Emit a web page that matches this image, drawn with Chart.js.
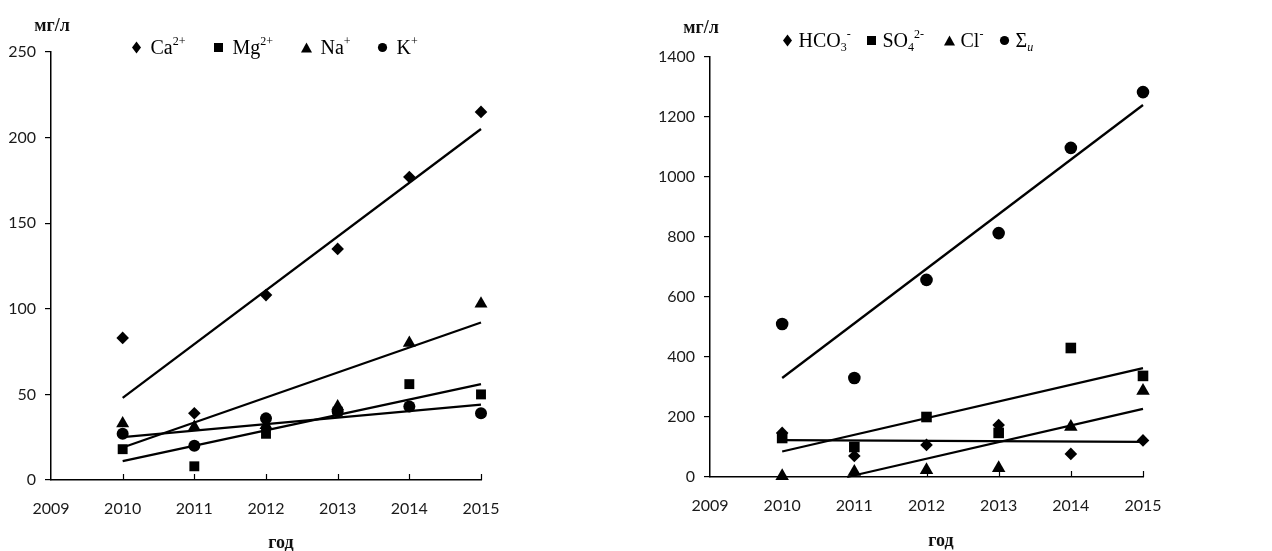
<!DOCTYPE html>
<html><head><meta charset="utf-8">
<script src="https://cdn.jsdelivr.net/npm/chart.js@4/dist/chart.umd.min.js"></script>
<style>
html,body{margin:0;padding:0;background:#fff;width:1272px;height:551px;overflow:hidden}
.wrap{position:absolute;top:0;width:636px;height:551px}
.wrap canvas{position:absolute;left:0;top:0}
.t{position:absolute;font-family:"Liberation Serif","DejaVu Serif",serif;font-weight:bold;color:#111;white-space:nowrap;transform:translate(-50%,-50%)}
.lg{position:absolute;font-family:"Liberation Serif",serif;font-size:20px;color:#000;white-space:nowrap;display:flex;align-items:center;transform:translateY(-50%);line-height:1}
.lg sup{font-size:12px;vertical-align:9px;line-height:0}
.lg sub{font-size:12px;vertical-align:-4px;line-height:0}
</style></head>
<body>
<div class="wrap" style="left:0"><canvas id="c1" width="636" height="551"></canvas></div>
<div class="wrap" style="left:636px"><canvas id="c2" width="636" height="551"></canvas></div>
<script>
// ---------- data ----------
const years = [2010, 2011, 2012, 2013, 2014, 2015];
const xTicks = [2009, 2010, 2011, 2012, 2013, 2014, 2015];

// left panel: cations, mg/l
const ca = [83, 39, 108, 135, 177, 215];
const mg = [18, 8, 27, 40, 56, 50];
const na = [33, 31, 32, 43, 80, 103];
const k  = [27, 20, 36, 40, 43, 39];
// trend lines: [x0, y0, x1, y1]
const caTrend = [2010, 48, 2015, 205];
const mgTrend = [2010, 11, 2015, 56];
const naTrend = [2010, 19, 2015, 92];
const kTrend  = [2010, 25, 2015, 44];
const leftLabels = ['Ca<sup>2+</sup>', 'Mg<sup>2+</sup>', 'Na<sup>+</sup>', 'K<sup>+</sup>'];

// right panel: anions and sum, mg/l
const hco3 = [147, 70, 107, 173, 77, 122];
const so4  = [130, 100, 200, 147, 430, 337];
const cl   = [3, 17, 23, 30, 167, 287];
const sumI = [510, 330, 657, 813, 1097, 1283];
const hco3Trend = [2010, 123, 2015, 117];
const so4Trend  = [2010, 85, 2015, 363];
const clTrend   = [2010.9, 0, 2015, 227];
const sumTrend  = [2010, 330, 2015, 1240];
const rightLabels = ['HCO<sub>3</sub><sup>-</sup>', 'SO<sub>4</sub><sup>2-</sup>', 'Cl<sup>-</sup>', 'Σ<sub><i>и</i></sub>'];

const yUnit = 'мг/л';
const xTitle = 'год';

// ---------- helpers ----------
const styles = ['rectRot', 'rect', 'triangle', 'circle'];
function pts(vals){ return years.map((y,i)=>({x:y, y:vals[i]})); }
function scatterDs(vals, style, r){
  return {type:'scatter', data:pts(vals), pointStyle:style, pointRadius:r, backgroundColor:'#000', borderColor:'#000', borderWidth:0, clip:false, showLine:false};
}
function trendDs(t){
  return {type:'line', data:[{x:t[0],y:t[1]},{x:t[2],y:t[3]}], borderColor:'#000', borderWidth:2.3, pointRadius:0, fill:false, clip:false};
}
const innerTicks = {
  id:'innerTicks',
  afterDraw(chart){
    const ctx = chart.ctx, sx = chart.scales.x, b = chart.chartArea.bottom;
    ctx.save(); ctx.strokeStyle='#000'; ctx.lineWidth=1.2; ctx.beginPath();
    years.forEach(v=>{ const p = Math.round(sx.getPixelForValue(v))+0.5; ctx.moveTo(p,b); ctx.lineTo(p,b-6); });
    ctx.stroke(); ctx.restore();
  }
};
function makeChart(id, datasets, yMax, yStep, area){
  const tickFont = {family:'Lato, "Open Sans", sans-serif', size:16};
  return new Chart(document.getElementById(id), {
    type:'scatter',
    data:{datasets},
    options:{
      responsive:false, animation:false, devicePixelRatio:1,
      layout:{padding:{left:0, top:area.top, right:636-area.right, bottom:0}},
      plugins:{legend:{display:false}, tooltip:{enabled:false}},
      scales:{
        x:{type:'linear', min:2009, max:2015,
           afterBuildTicks:s=>{ s.ticks = xTicks.map(v=>({value:v})); },
           ticks:{font:tickFont, color:'#1a1a1a', padding:19, maxRotation:0, callback:v=>String(v)},
           grid:{display:false, drawTicks:false},
           border:{display:true, color:'#000', width:1.5},
           afterFit:s=>{ s.height = 551-area.bottom; }},
        y:{type:'linear', min:0, max:yMax,
           ticks:{stepSize:yStep, font:tickFont, color:'#1a1a1a', padding:9, callback:v=>String(v)},
           grid:{display:true, drawOnChartArea:false, drawTicks:true, tickLength:6, color:'#000', lineWidth:1.2},
           border:{display:true, color:'#000', width:1.5},
           afterFit:s=>{ s.width = area.left; }}
      }
    },
    plugins:[innerTicks]
  });
}
function markerSvg(style){
  const shapes = {
    rectRot:'<polygon points="5,0.5 9.5,6.5 5,12.5 0.5,6.5"/>',
    rect:'<rect x="0.5" y="2" width="9" height="9"/>',
    triangle:'<polygon points="5,1.5 10.5,11.5 -0.5,11.5"/>',
    circle:'<circle cx="5" cy="6.5" r="4.6"/>'
  };
  return `<svg width="11" height="13" viewBox="-0.5 0 11 13" style="display:block">${shapes[style]}</svg>`;
}
function addLegend(wrapIdx, labels, centers, cy, gap){
  const wrap = document.querySelectorAll('.wrap')[wrapIdx];
  labels.forEach((lab,i)=>{
    const d = document.createElement('div');
    d.className='lg';
    d.style.left = (centers[i]-5.5)+'px';
    d.style.top = cy+'px';
    d.innerHTML = markerSvg(styles[i]) + `<span style="margin-left:${gap}px">${lab}</span>`;
    wrap.appendChild(d);
  });
}
function addText(wrapIdx, txt, x, y, size){
  const wrap = document.querySelectorAll('.wrap')[wrapIdx];
  const d = document.createElement('div');
  d.className='t'; d.textContent = txt;
  d.style.left = x+'px'; d.style.top = y+'px'; d.style.fontSize = size+'px';
  wrap.appendChild(d);
}

// ---------- left chart ----------
makeChart('c1', [
  trendDs(caTrend), trendDs(mgTrend), trendDs(naTrend), trendDs(kTrend),
  scatterDs(ca,'rectRot',6.3), scatterDs(mg,'rect',7), scatterDs(na,'triangle',7.5), scatterDs(k,'circle',6)
], 250, 50, {left:51, right:481, top:52, bottom:480});
addLegend(0, leftLabels, [136, 218, 306, 382], 47, 9);
addText(0, yUnit, 52, 25, 18);
addText(0, xTitle, 281, 542, 18);

// ---------- right chart ----------
makeChart('c2', [
  trendDs(hco3Trend), trendDs(so4Trend), trendDs(clTrend), trendDs(sumTrend),
  scatterDs(hco3,'rectRot',6.3), scatterDs(so4,'rect',7.5), scatterDs(cl,'triangle',7.8), scatterDs(sumI,'circle',6.3)
], 1400, 200, {left:74, right:507, top:57, bottom:477});
addLegend(1, rightLabels, [787-636, 871-636, 949-636, 1004-636], 40, 6);
addText(1, yUnit, 701-636, 27, 18);
addText(1, xTitle, 941-636, 540, 18);
</script>
</body></html>
